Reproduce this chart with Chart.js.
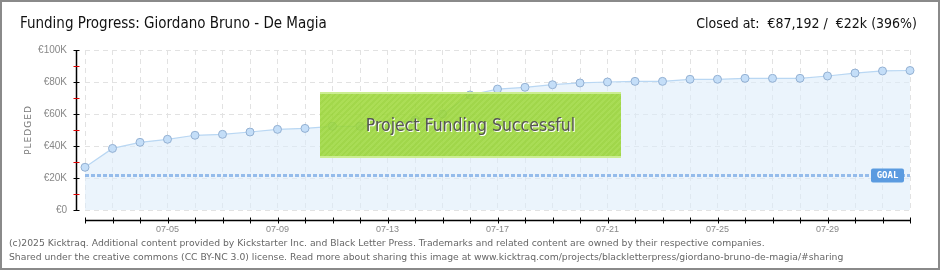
<!DOCTYPE html>
<html>
<head>
<meta charset="utf-8">
<script src="https://cdn.jsdelivr.net/npm/chart.js@4.4.1/dist/chart.umd.min.js"></script>
<style>
  html, body { margin:0; padding:0; background:#fff; }
  #wrap { position:relative; width:940px; height:270px; overflow:hidden; background:#fff; }
  #c { position:absolute; left:0; top:0; }
  #frame { position:absolute; left:0; top:0; width:940px; height:270px; box-sizing:border-box; border:2px solid #8a8a8a; pointer-events:none; }
  .ttl { position:absolute; top:13px; font-family:"Liberation Sans Narrow","DejaVu Sans Condensed",sans-serif; font-size:15px; color:#111; line-height:20px; white-space:nowrap; }
  #title { left:20px; }
  #closed { right:23px; font-size:14px; }
  #success { position:absolute; left:320px; top:92px; width:301px; height:66px; box-sizing:border-box;
    border-top:2px solid rgba(205,238,150,0.95); border-bottom:2px solid rgba(205,238,150,0.95);
    background: repeating-linear-gradient(135deg, rgba(158,216,58,0.86) 0px, rgba(158,216,58,0.86) 2px, rgba(150,210,50,0.88) 2px, rgba(150,210,50,0.88) 4px);
    font-family:"Liberation Sans Narrow","DejaVu Sans Condensed",sans-serif; font-size:17.5px; color:#555;
    text-shadow:1px 1px 0 #fff; text-align:center; line-height:62px; white-space:nowrap; }
  #footer { position:absolute; left:9px; top:236px; font-family:"DejaVu Sans",sans-serif; font-size:9.25px; color:#666; line-height:14px; white-space:nowrap; }
</style>
</head>
<body>
<div id="wrap">
  <canvas id="c" width="940" height="270"></canvas>
  <div id="title" class="ttl">Funding Progress: Giordano Bruno - De Magia</div>
  <div id="closed" class="ttl">Closed at:&nbsp; €87,192 /&nbsp; €22k (396%)</div>
  <div id="success">Project Funding Successful</div>
  <div id="footer">(c)2025 Kicktraq. Additional content provided by Kickstarter Inc. and Black Letter Press. Trademarks and related content are owned by their respective companies.<br>Shared under the creative commons (CC BY-NC 3.0) license. Read more about sharing this image at www.kicktraq.com/projects/blackletterpress/giordano-bruno-de-magia/#sharing</div>
  <div id="frame"></div>
</div>
<script>
const dates = ["07-02","07-03","07-04","07-05","07-06","07-07","07-08","07-09","07-10","07-11",
  "07-12","07-13","07-14","07-15","07-16","07-17","07-18","07-19","07-20","07-21",
  "07-22","07-23","07-24","07-25","07-26","07-27","07-28","07-29","07-30","07-31","08-01"];
const pledged = [26700,38500,42300,44200,46700,47300,48750,50400,51000,52300,
  52300,53500,56300,60000,71900,75600,76700,78300,79400,80000,
  80400,80400,81700,81700,82300,82300,82300,83750,85600,86900,87192];
const goal = 22000;
const yTickLabels = {0:"€0",20000:"€20K",40000:"€40K",60000:"€60K",80000:"€80K",100000:"€100K"};
const xLabelEvery = 4, xLabelStart = 3;

const axesPlugin = {
  id:'kt',
  afterDatasetsDraw(chart){
    const ctx = chart.ctx, x = chart.scales.x, y = chart.scales.y, ca = chart.chartArea;
    const gy = Math.round(y.getPixelForValue(goal)) + 0.5;
    ctx.save();
    ctx.strokeStyle = 'rgba(120,168,228,0.75)';
    ctx.lineWidth = 3;
    ctx.setLineDash([4,2]);
    ctx.beginPath(); ctx.moveTo(ca.left, gy); ctx.lineTo(ca.right, gy); ctx.stroke();
    ctx.setLineDash([]);
    const gx = 871, gw = 33, gh = 14;
    ctx.fillStyle = '#5b9be0';
    ctx.beginPath();
    ctx.roundRect(gx, gy - gh/2, gw, gh, 2);
    ctx.fill();
    ctx.fillStyle = '#fff';
    ctx.font = 'bold 9px "DejaVu Sans Mono", monospace';
    ctx.textAlign = 'center'; ctx.textBaseline = 'middle';
    ctx.fillText('GOAL', gx + gw/2, gy + 0.5);
    const ay = ca.bottom + 10.5;
    const x0 = x.getPixelForValue(0), x1 = x.getPixelForValue(dates.length-1);
    ctx.strokeStyle = '#000'; ctx.lineWidth = 1.5;
    ctx.beginPath(); ctx.moveTo(x0, ay); ctx.lineTo(x1, ay); ctx.stroke();
    ctx.lineWidth = 1;
    for (let i=0;i<dates.length;i++){
      const px = Math.round(x.getPixelForValue(i)) + 0.5;
      ctx.beginPath(); ctx.moveTo(px, ay-3); ctx.lineTo(px, ay+3); ctx.stroke();
    }
    const ax = ca.left - 8.5;
    ctx.lineWidth = 1.5;
    ctx.beginPath(); ctx.moveTo(ax, y.getPixelForValue(100000)); ctx.lineTo(ax, y.getPixelForValue(0)); ctx.stroke();
    ctx.lineWidth = 1;
    for (let v=0; v<=100000; v+=10000){
      const py = Math.round(y.getPixelForValue(v)) + 0.5;
      ctx.strokeStyle = (v % 20000 === 0) ? '#000' : '#e00000';
      ctx.beginPath(); ctx.moveTo(ax-3, py); ctx.lineTo(ax+3, py); ctx.stroke();
    }
    ctx.fillStyle = '#777';
    ctx.font = '9px "DejaVu Sans", sans-serif';
    ctx.translate(29, (ca.top+ca.bottom)/2);
    ctx.rotate(-Math.PI/2);
    ctx.textAlign='center'; ctx.textBaseline='middle';
    if (ctx.letterSpacing !== undefined) ctx.letterSpacing = '1px';
    ctx.fillText('PLEDGED', 0, 0);
    ctx.restore();
  }
};

new Chart(document.getElementById('c'), {
  type:'line',
  data:{
    labels: dates,
    datasets:[{
      data: pledged,
      borderColor:'#b9d7f3',
      borderWidth:1.2,
      backgroundColor:'rgba(222,236,250,0.6)',
      fill:'origin',
      tension:0,
      pointRadius:4,
      pointBackgroundColor:'#c4def8',
      pointBorderColor:'#93b0d2',
      pointBorderWidth:1
    }]
  },
  options:{
    responsive:false,
    animation:false,
    events:[],
    layout:{ padding:{ left:0, top:50, right:30, bottom:0 } },
    plugins:{ legend:{display:false}, tooltip:{enabled:false}, title:{display:false} },
    scales:{
      x:{
        offset:false,
        afterFit(s){ s.height = 60; },
        grid:{ color:'#e2e2e2', drawTicks:false },
        border:{ display:false, dash:[5,4] },
        ticks:{
          autoSkip:false, maxRotation:0, padding:14,
          color:'#888', font:{ family:'"Liberation Sans", sans-serif', size:9 },
          callback(v,i){ return ((i - xLabelStart) % xLabelEvery === 0 && i >= xLabelStart) ? dates[i] : ''; }
        }
      },
      y:{
        min:0, max:100000,
        afterFit(s){ s.width = 85; },
        grid:{ drawTicks:false, color(c){ return (c.tick && c.tick.value % 20000 === 0) ? '#e2e2e2' : 'rgba(0,0,0,0)'; } },
        border:{ display:false, dash:[5,4] },
        ticks:{
          stepSize:10000, padding:18, color:'#888',
          font:{ family:'"Liberation Sans", sans-serif', size:10 },
          callback(v){ return yTickLabels[v] !== undefined ? yTickLabels[v] : ''; }
        }
      }
    }
  },
  plugins:[axesPlugin]
});
</script>
</body>
</html>
